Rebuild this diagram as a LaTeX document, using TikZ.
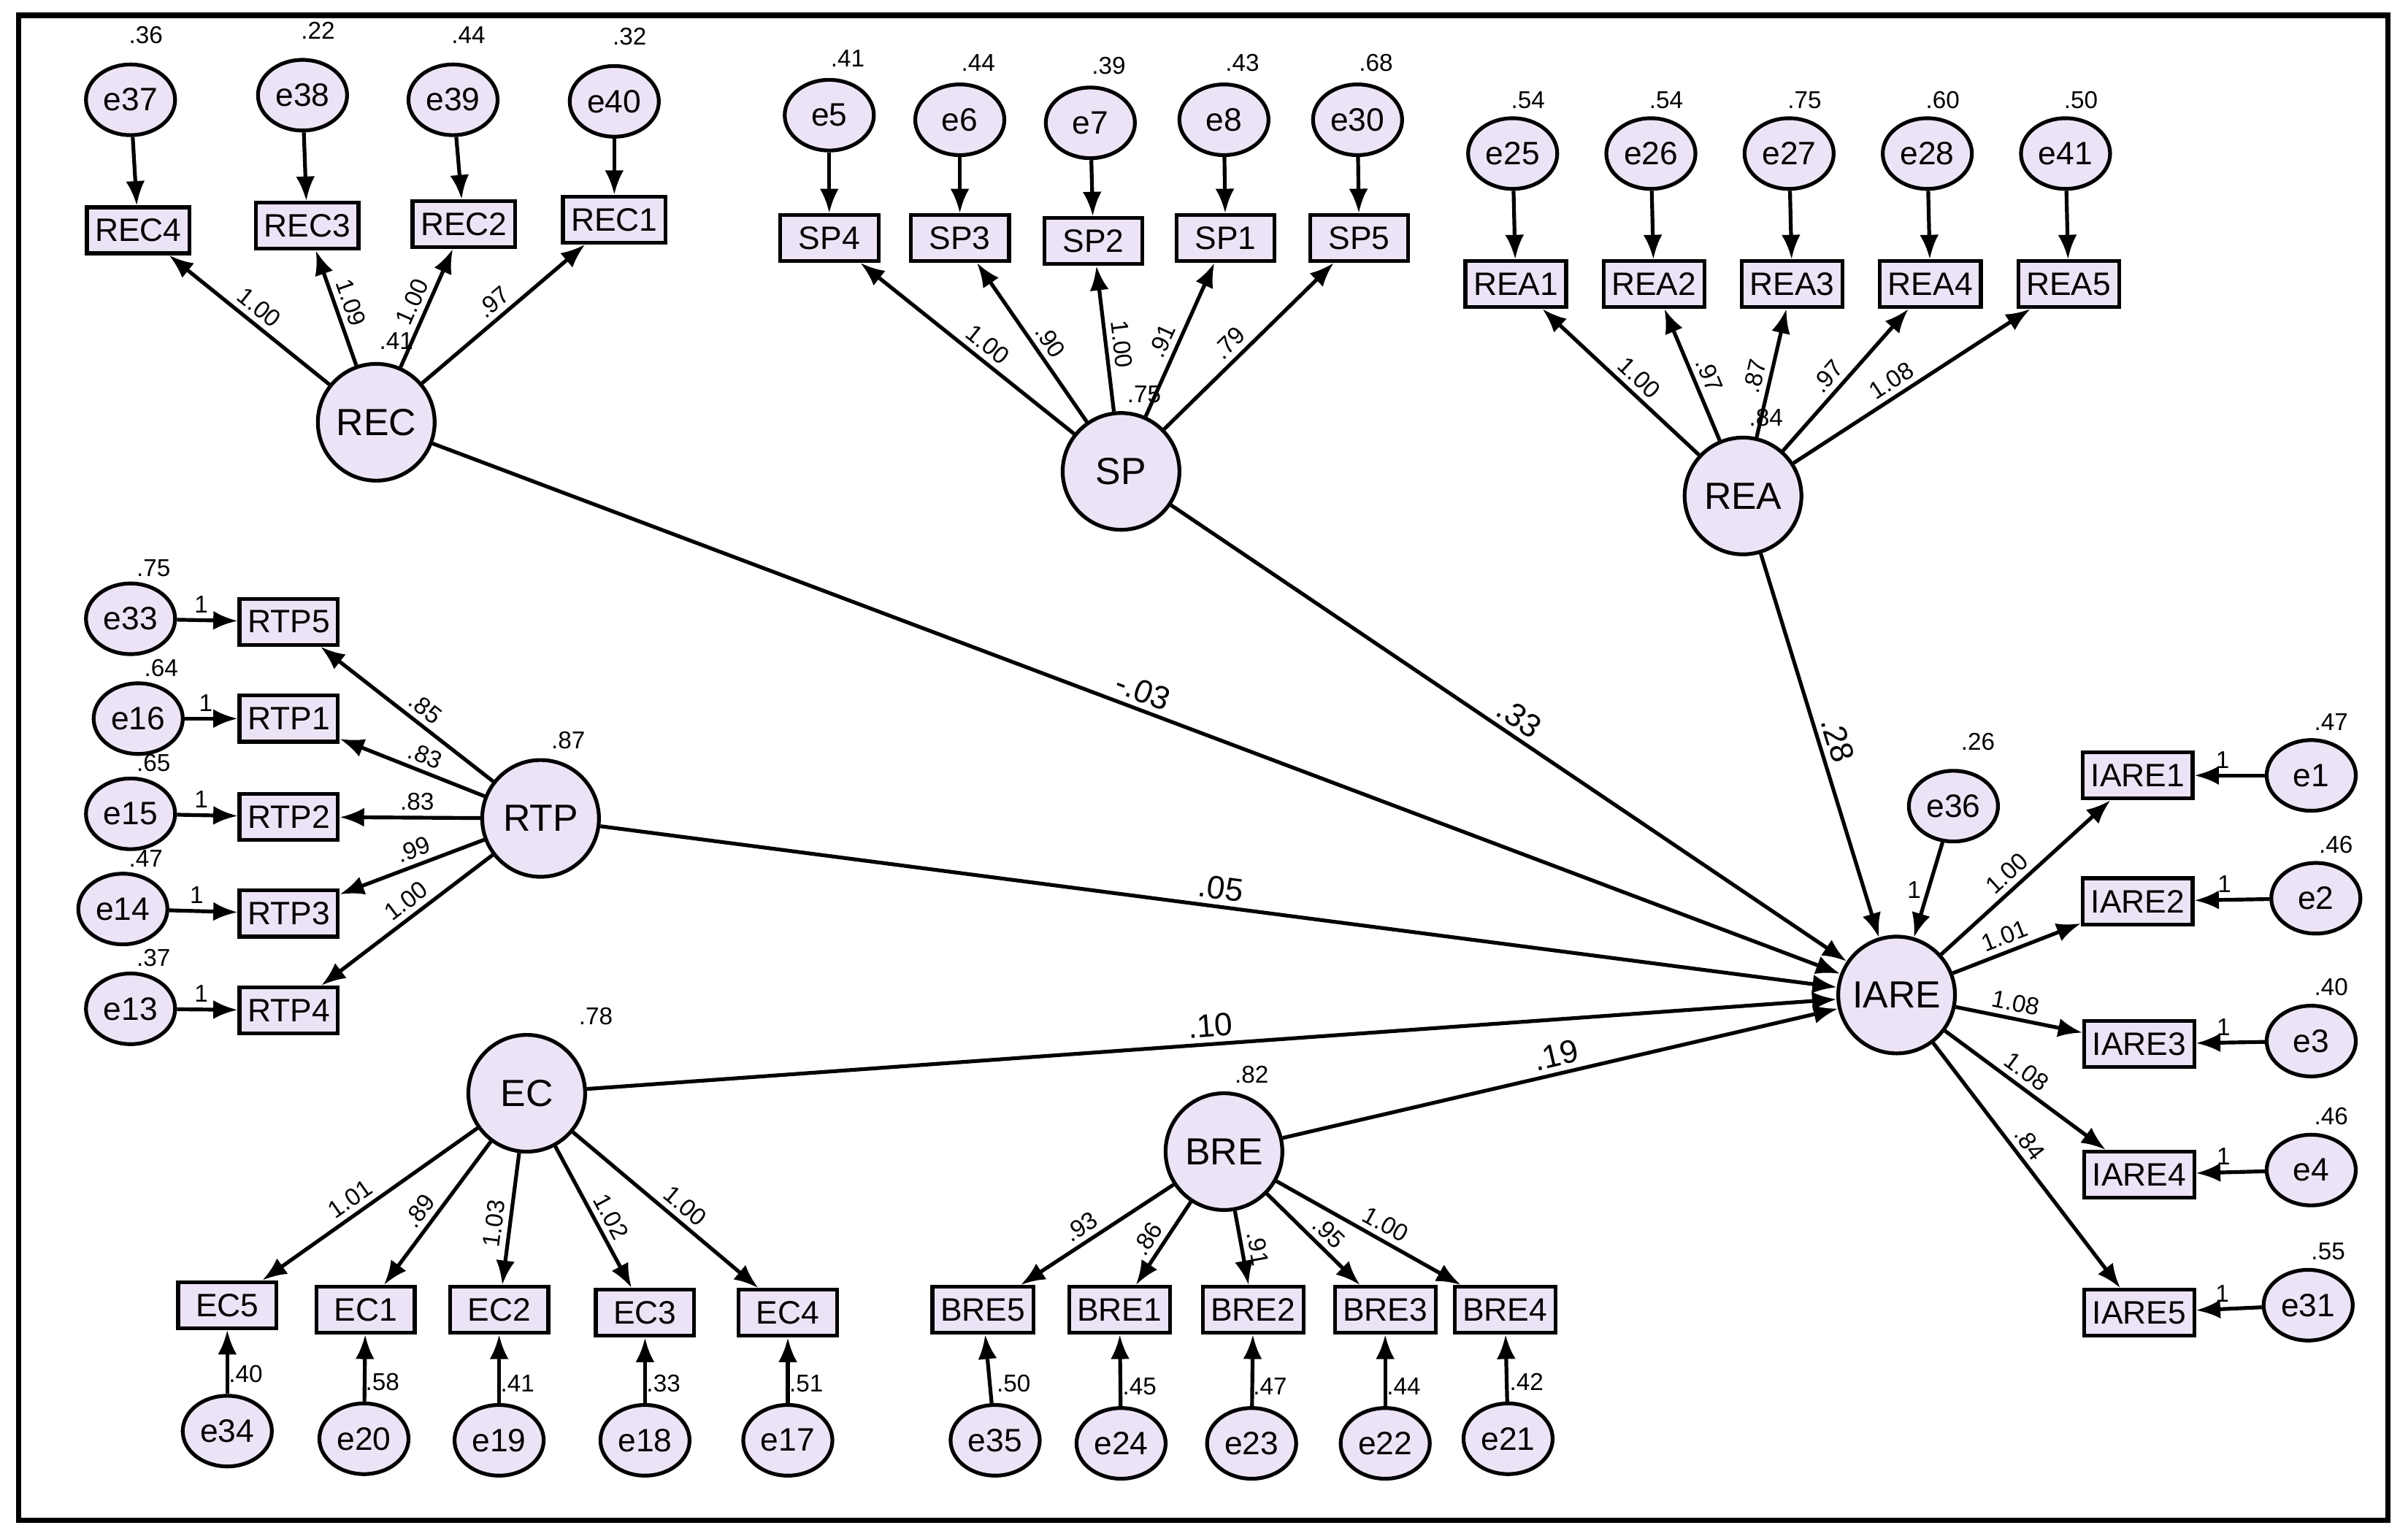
\documentclass[tikz,border=0pt]{standalone}
\usepackage{fontspec}
\setmainfont{Liberation Sans}
\usetikzlibrary{arrows.meta,calc,shapes.geometric,positioning}
\definecolor{lav}{RGB}{236,228,246}
\tikzset{
  obs/.style={rectangle,draw,fill=lav,line width=0.7pt,minimum width=0.64cm,minimum height=0.3cm,inner sep=1.5pt,font=\fontsize{6}{7}\selectfont},
  err/.style={ellipse,draw,fill=lav,line width=0.7pt,minimum width=0.58cm,minimum height=0.46cm,inner sep=0pt,font=\fontsize{6}{7}\selectfont},
  lat/.style={circle,draw,fill=lav,line width=0.7pt,minimum size=0.76cm,inner sep=0pt,font=\fontsize{7}{8}\selectfont},
  path/.style={-{Latex[length=4.5pt,width=3.5pt]},line width=0.7pt},
  est/.style={font=\fontsize{4.5}{5}\selectfont,inner sep=1pt}
}
\begin{document}
\begin{tikzpicture}[x=0.01cm,y=-0.01cm]
\useasboundingbox (0,0) rectangle (1568,1000);
\draw[line width=1pt] (12,10) rectangle (1555,990);

%latent variables
\node[lat] (REC) at (245,275) {REC};
\node[lat] (SP) at (730,307) {SP};
\node[lat] (REA) at (1135,323) {REA};
\node[lat] (RTP) at (352,533) {RTP};
\node[lat] (EC) at (343,712) {EC};
\node[lat] (BRE) at (797,750) {BRE};
\node[lat] (IARE) at (1235,648) {IARE};
\node[est] at ($(REC)+(13,-53)$) {.41};
\node[est] at ($(SP)+(15,-50)$) {.75};
\node[est] at ($(REA)+(15,-51)$) {.84};
\node[est] at ($(RTP)+(18,-51)$) {.87};
\node[est] at ($(EC)+(45,-50)$) {.78};
\node[est] at ($(BRE)+(18,-50)$) {.82};

%REC indicators
\foreach \e/\i/\ex/\ey/\ix/\iy/\v/\l in {e37/REC4/85/65/90/150/.36/1.00,e38/REC3/197/62/200/147/.22/1.09,e39/REC2/295/65/302/146/.44/1.00,e40/REC1/400/66/400/143/.32/.97}{
  \node[err] (\e) at (\ex,\ey) {\e};
  \node[obs] (\i) at (\ix,\iy) {\i};
  \draw[path] (\e) -- (\i);
  \node[est] at ($(\e)+(10,-42)$) {\v};
  \draw[path] (REC) -- node[est,sloped,above]{\l} (\i);
}
%SP indicators
\foreach \e/\i/\ex/\ey/\ix/\iy/\v/\l in {e5/SP4/540/75/540/155/.41/1.00,e6/SP3/625/78/625/155/.44/.90,e7/SP2/710/80/712/157/.39/1.00,e8/SP1/797/78/798/155/.43/.91,e30/SP5/884/78/885/155/.68/.79}{
  \node[err] (\e) at (\ex,\ey) {\e};
  \node[obs] (\i) at (\ix,\iy) {\i};
  \draw[path] (\e) -- (\i);
  \node[est] at ($(\e)+(12,-37)$) {\v};
  \draw[path] (SP) -- node[est,sloped,above,pos=0.45]{\l} (\i);
}
%REA indicators
\foreach \e/\i/\ex/\ey/\ix/\iy/\v/\l in {e25/REA1/985/100/987/185/.54/1.00,e26/REA2/1075/100/1077/185/.54/.97,e27/REA3/1165/100/1167/185/.75/.87,e28/REA4/1255/100/1257/185/.60/.97,e41/REA5/1345/100/1347/185/.50/1.08}{
  \node[err] (\e) at (\ex,\ey) {\e};
  \node[obs] (\i) at (\ix,\iy) {\i};
  \draw[path] (\e) -- (\i);
  \node[est] at ($(\e)+(10,-35)$) {\v};
  \draw[path] (REA) -- node[est,sloped,above,pos=0.45]{\l} (\i);
}
%RTP indicators
\foreach \e/\i/\ex/\ey/\ix/\iy/\v/\l in {e33/RTP5/85/403/188/405/.75/.85,e16/RTP1/90/468/188/468/.64/.83,e15/RTP2/85/530/188/532/.65/.83,e14/RTP3/80/592/188/595/.47/.99,e13/RTP4/85/657/188/658/.37/1.00}{
  \node[err] (\e) at (\ex,\ey) {\e};
  \node[obs] (\i) at (\ix,\iy) {\i};
  \draw[path] (\e) -- node[est,above,pos=0.4]{1} (\i);
  \node[est] at ($(\e)+(15,-33)$) {\v};
  \draw[path] (RTP) -- node[est,sloped,above,pos=0.45]{\l} (\i);
}
%EC indicators
\foreach \e/\i/\ex/\ey/\ix/\iy/\v/\l in {e34/EC5/148/932/148/850/.40/1.01,e20/EC1/237/937/238/853/.58/.89,e19/EC2/325/938/325/853/.41/1.03,e18/EC3/420/938/420/855/.33/1.02,e17/EC4/513/938/513/855/.51/1.00}{
  \node[err] (\e) at (\ex,\ey) {\e};
  \node[obs] (\i) at (\ix,\iy) {\i};
  \draw[path] (\e) -- (\i);
  \node[est] at ($(\e)+(12,-37)$) {\v};
  \draw[path] (EC) -- node[est,sloped,above,pos=0.55]{\l} (\i);
}
%BRE indicators
\foreach \e/\i/\ex/\ey/\ix/\iy/\v/\l in {e35/BRE5/648/938/640/853/.50/.93,e24/BRE1/730/940/729/853/.45/.86,e23/BRE2/815/940/816/853/.47/.91,e22/BRE3/902/940/902/853/.44/.95,e21/BRE4/982/937/980/853/.42/1.00}{
  \node[err] (\e) at (\ex,\ey) {\e};
  \node[obs] (\i) at (\ix,\iy) {\i};
  \draw[path] (\e) -- (\i);
  \node[est] at ($(\e)+(12,-37)$) {\v};
  \draw[path] (BRE) -- node[est,sloped,above,pos=0.55]{\l} (\i);
}
%IARE indicators
\foreach \e/\i/\ex/\ey/\ix/\iy/\v/\l in {e1/IARE1/1505/505/1392/505/.47/1.00,e2/IARE2/1508/585/1392/587/.46/1.01,e3/IARE3/1505/678/1393/680/.40/1.08,e4/IARE4/1505/762/1393/765/.46/1.08,e31/IARE5/1503/850/1393/855/.55/.84}{
  \node[err] (\e) at (\ex,\ey) {\e};
  \node[obs] (\i) at (\ix,\iy) {\i};
  \draw[path] (\e) -- node[est,above,pos=0.6]{1} (\i);
  \node[est] at ($(\e)+(13,-35)$) {\v};
  \draw[path] (IARE) -- node[est,sloped,above,pos=0.45]{\l} (\i);
}
%disturbance
\node[err] (e36) at (1272,525) {e36};
\node[est] at ($(e36)+(16,-42)$) {.26};
\draw[path] (e36) -- node[est,left]{1} (IARE);

%structural paths
\draw[path] (REC) -- node[est,sloped,above,font=\fontsize{6}{7}\selectfont]{-.03} (IARE);
\draw[path] (SP) -- node[est,sloped,above,font=\fontsize{6}{7}\selectfont,pos=0.5]{.33} (IARE);
\draw[path] (REA) -- node[est,sloped,above,font=\fontsize{6}{7}\selectfont,pos=0.5]{.28} (IARE);
\draw[path] (RTP) -- node[est,sloped,above,font=\fontsize{6}{7}\selectfont]{.05} (IARE);
\draw[path] (EC) -- node[est,sloped,above,font=\fontsize{6}{7}\selectfont]{.10} (IARE);
\draw[path] (BRE) -- node[est,sloped,above,font=\fontsize{6}{7}\selectfont,pos=0.5]{.19} (IARE);
\end{tikzpicture}
\end{document}
